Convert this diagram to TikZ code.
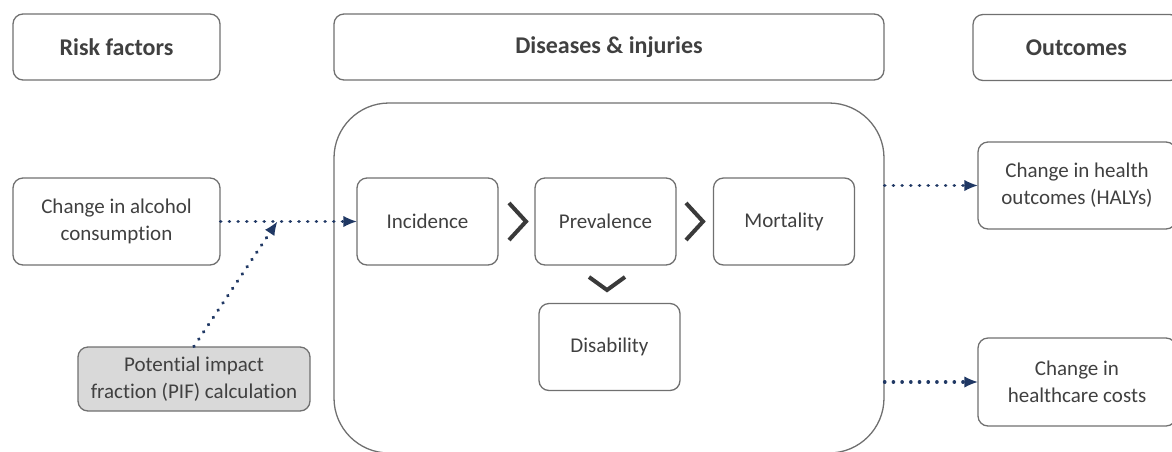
\documentclass[tikz,border=0pt]{standalone}
\usepackage{fontspec}
\setmainfont{Carlito}[Ligatures=CommonOff]
\usetikzlibrary{arrows.meta}

\definecolor{boxline}{HTML}{707070}
\definecolor{txt}{HTML}{404040}
\definecolor{navy}{HTML}{203864}
\definecolor{pifgray}{HTML}{D9D9D9}
\definecolor{chev}{HTML}{3A3A3A}

\begin{document}
\begin{tikzpicture}[x=1pt,y=-1pt]
  \useasboundingbox (0,0) rectangle (1172,451);
  \clip (0,0) rectangle (1172,451);
  \tikzstyle{BoxStyle}=[draw=boxline,line width=1.3pt,rounded corners=10pt,text=txt,align=center,
    inner sep=0pt,minimum height=87pt,font=\fontsize{21}{27}\selectfont]
  \tikzstyle{TitleStyle}=[BoxStyle,minimum height=66pt,font=\fontsize{24}{29}\selectfont\bfseries]
  \tikzstyle{ArrowStyle}=[navy,line width=3.6pt,line cap=round,dash pattern=on 0.1pt off 8.6pt,
    -{Latex[length=13pt,width=11pt,line width=0pt]}]
  \tikzstyle{ChevStyle}=[chev,line width=4pt]
  \node[TitleStyle,minimum width=207pt] (rf) at (116.5,47) {Risk factors};
  \node[TitleStyle,minimum width=550pt] (di) at (609,47) {Diseases \& injuries};
  \node[TitleStyle,minimum width=207pt] (oc) at (1076.5,47.5) {Outcomes};
  \node[draw=boxline,line width=1.3pt,rounded corners=55pt,minimum width=550pt,
    minimum height=350pt] (frame) at (609,278) {};
  \node[BoxStyle,minimum width=207pt] (alc) at (116.5,221.5) {Change in alcohol\\consumption};
  \node[BoxStyle,minimum width=141pt] (inc) at (427.5,221.5) {Incidence};
  \node[BoxStyle,minimum width=141pt] (prev) at (605.5,221.5) {Prevalence};
  \node[BoxStyle,minimum width=141pt] (mort) at (784,221.5) {Mortality};
  \node[BoxStyle,minimum width=141pt] (dis) at (609.5,347) {Disability};
  \node[BoxStyle,minimum width=232pt,minimum height=64pt,fill=pifgray] (pif) at (194,379)
    {Potential impact\\fraction (PIF) calculation};
  \node[BoxStyle,minimum width=198pt] (halys) at (1077,185.5) {Change in health\\outcomes (HALYs)};
  \node[BoxStyle,minimum width=198pt,minimum height=88pt] (costs) at (1077,382) {Change in\\healthcare costs};
  \coordinate (join) at (277,222);
  \draw[ChevStyle] (509,203) -- (526,221.5) -- (509,240);
  \draw[ChevStyle] (686,203) -- (703,221.5) -- (686,240);
  \draw[ChevStyle] (589,277) -- (607,290) -- (625,277);
  \draw[ArrowStyle] (alc.east) -- (inc.west);
  \draw[ArrowStyle] (pif.north) -- (join);
  \draw[ArrowStyle] (halys.west -| frame.east) -- (halys.west);
  \draw[ArrowStyle] (costs.west -| frame.east) -- (costs.west);
\end{tikzpicture}
\end{document}
